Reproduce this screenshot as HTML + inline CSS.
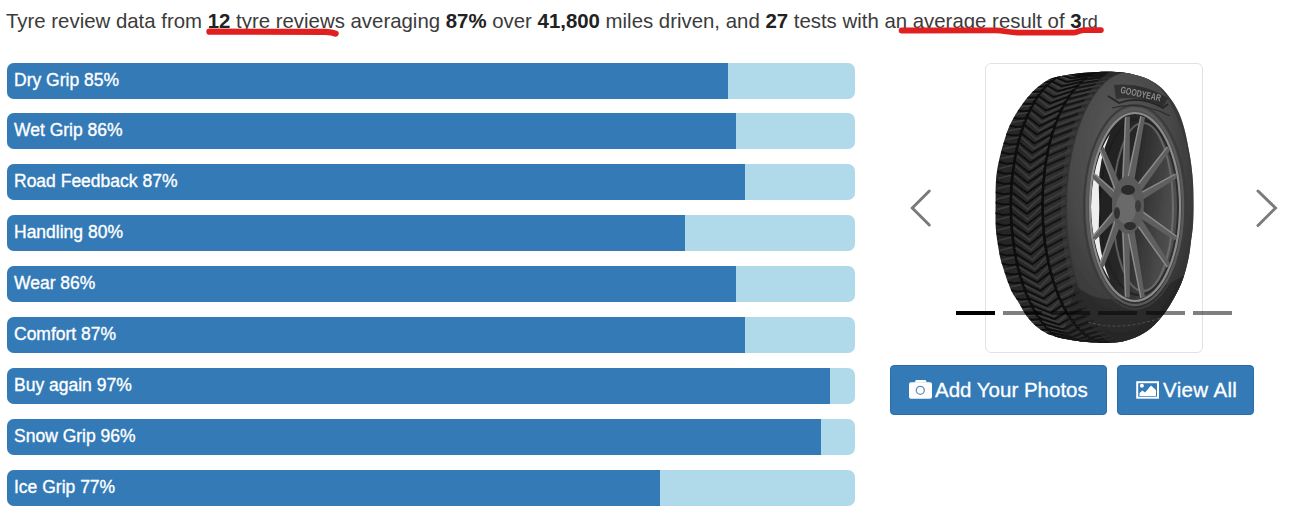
<!DOCTYPE html>
<html><head><meta charset="utf-8">
<style>
html,body{margin:0;padding:0;background:#fff;width:1296px;height:512px;overflow:hidden;}
body{font-family:"Liberation Sans",sans-serif;position:relative;}
.top{position:absolute;left:6px;top:9.5px;font-size:20.4px;color:#3b3b3b;white-space:nowrap;letter-spacing:0;}
.top b{color:#222;}
.ul{position:absolute;}
.bar{position:absolute;left:7px;width:848px;height:36px;background:#b0daea;border-radius:7px;overflow:hidden;}
.fill{position:absolute;left:0;top:0;bottom:0;background:#337ab7;}
.lbl{position:absolute;left:7px;top:7px;font-size:17.5px;color:#fff;white-space:nowrap;line-height:20px;-webkit-text-stroke:0.35px #fff;}
.card{position:absolute;left:985px;top:63px;width:216px;height:288px;border:1px solid #e2e2e2;border-radius:6px;background:#fff;}
.btn{position:absolute;top:365px;height:50px;background:#337ab7;border:1px solid #2e6da4;box-sizing:border-box;border-radius:4px;color:#fff;font-size:20px;white-space:nowrap;-webkit-text-stroke:0.3px #fff;}
.dash{position:absolute;top:311px;height:4px;width:39px;background:rgba(0,0,0,0.5);}
</style></head><body>
<div class="top">Tyre review data from <b>12</b> tyre reviews averaging <b>87%</b> over <b>41,800</b> miles driven, and <b>27</b> tests with an average result of <b>3</b><span style="font-size:18px">rd</span></div>

<svg style="position:absolute;left:0;top:0" width="1296" height="60">
<path d="M209.4,31.7 L326,31.8 Q332,32 335.6,33.6" fill="none" stroke="#e01f1f" stroke-width="6.2" stroke-linecap="round" stroke-linejoin="round"/>
<path d="M901.6,30.5 L995,30.4 C1005,30.5 1008,32.6 1018,32.6 L1074,32.6 C1078,32.5 1079,30.2 1084,30.1 L1100.9,30.1" fill="none" stroke="#e01f1f" stroke-width="5.8" stroke-linecap="round" stroke-linejoin="round"/>
</svg>
<div class="bar" style="top:63px"><div class="fill" style="width:85%"></div><div class="lbl">Dry Grip 85%</div></div>
<div class="bar" style="top:113px"><div class="fill" style="width:86%"></div><div class="lbl">Wet Grip 86%</div></div>
<div class="bar" style="top:164px"><div class="fill" style="width:87%"></div><div class="lbl">Road Feedback 87%</div></div>
<div class="bar" style="top:215px"><div class="fill" style="width:80%"></div><div class="lbl">Handling 80%</div></div>
<div class="bar" style="top:266px"><div class="fill" style="width:86%"></div><div class="lbl">Wear 86%</div></div>
<div class="bar" style="top:317px"><div class="fill" style="width:87%"></div><div class="lbl">Comfort 87%</div></div>
<div class="bar" style="top:368px"><div class="fill" style="width:97%"></div><div class="lbl">Buy again 97%</div></div>
<div class="bar" style="top:419px"><div class="fill" style="width:96%"></div><div class="lbl">Snow Grip 96%</div></div>
<div class="bar" style="top:470px"><div class="fill" style="width:77%"></div><div class="lbl">Ice Grip 77%</div></div>

<div class="card"></div>
<svg style="position:absolute;left:0;top:0" width="1296" height="512" viewBox="0 0 1296 512">
<defs>
<filter id="soft" x="-5%" y="-5%" width="110%" height="110%"><feGaussianBlur stdDeviation="0.6"/></filter>
<clipPath id="sil"><path d="M1105,71.7 C1112.6,71.6 1118,71.8 1124.5,72.8 C1131,73.8 1138.1,75.3 1144,77.6 C1149.9,79.9 1155.1,82.7 1159.7,86.4 C1164.3,90.1 1168.2,95.4 1171.4,100 C1174.7,104.6 1176.9,108.6 1179.2,113.8 C1181.5,119 1183.4,125.2 1185,131.4 C1186.6,137.6 1188,145.7 1189,151 C1190,156.3 1190.3,157.8 1191,163 C1191.7,168.2 1192.6,175.5 1193,182.5 C1193.4,189.5 1193.5,197.9 1193.5,205 C1193.5,212.1 1193.4,219 1193,225 C1192.6,231 1191.7,235.8 1191,241 C1190.3,246.2 1190,250.8 1189,256 C1188,261.2 1186.6,267.2 1185,272.5 C1183.4,277.8 1181.8,282.5 1179.2,288 C1176.6,293.5 1173.1,300.1 1169.5,305.7 C1165.9,311.3 1162,316.8 1157.7,321.4 C1153.5,325.9 1149.5,329.7 1144,333 C1138.5,336.3 1131,339.4 1124.5,341 C1118,342.6 1110,342.6 1105,342.8 C1100,343.1 1099.8,342.9 1094.4,342.5 C1089,342.1 1079.6,341.4 1072.5,340.2 C1065.4,339 1057.8,337.6 1052,335.5 C1046.2,333.4 1042.1,330.8 1038,327.7 C1033.9,324.6 1030.6,321.2 1027.2,316.8 C1023.8,312.3 1020.2,305 1017.8,301 C1015.3,297 1014.2,296.3 1012.5,293 C1010.8,289.7 1009.1,285.2 1007.6,281.2 C1006.1,277.3 1004.9,273.1 1003.7,269.5 C1002.6,265.9 1001.5,263.1 1000.7,259.8 C999.9,256.6 999.6,255.3 998.8,250 C998,244.7 996.3,236.6 995.8,228 C995.3,219.4 995.6,206.6 995.6,198.6 C995.6,190.6 995.7,184.9 996,180 C996.3,175.1 996.8,172.4 997.3,169 C997.8,165.6 998.6,162.6 999.3,159.3 C1000,156.1 1000.8,152.8 1001.7,149.5 C1002.6,146.2 1003.5,143.3 1004.6,139.8 C1005.7,136.3 1006.7,132.6 1008.4,128.6 C1010.1,124.6 1012.1,120.4 1014.7,116 C1017.3,111.6 1020.6,106.4 1024,102 C1027.4,97.6 1031.1,93.2 1035,89.6 C1038.9,86 1043.3,82.4 1047.5,80.2 C1051.7,78 1054.8,77.5 1060,76.3 C1065.2,75.1 1071.2,74 1078.8,73.2 C1086.2,72.4 1097.4,71.8 1105,71.7Z"/></clipPath>
<linearGradient id="tg" x1="0" y1="0" x2="1" y2="0"><stop offset="0" stop-color="#222"/><stop offset="0.3" stop-color="#2e2e2e"/><stop offset="1" stop-color="#363636"/></linearGradient>
<radialGradient id="sw" cx="0.42" cy="0.3" r="0.75"><stop offset="0" stop-color="#5a5a5a"/><stop offset="0.5" stop-color="#4a4a4a"/><stop offset="0.8" stop-color="#3a3a3a"/><stop offset="1" stop-color="#2c2c2c"/></radialGradient>
<linearGradient id="rg" x1="0" y1="0" x2="1" y2="0.3"><stop offset="0" stop-color="#1e1e1e"/><stop offset="0.5" stop-color="#262626"/><stop offset="1" stop-color="#505050"/></linearGradient>
<clipPath id="rimc"><ellipse cx="1135" cy="207" rx="44" ry="92"/></clipPath>
</defs>
<g filter="url(#soft)">
<g clip-path="url(#sil)">
<rect x="990" y="65" width="210" height="285" fill="url(#tg)"/>
<path d="M1080.8,72.2 L1077.4,71.7 L1074,71.7 L1070.6,72 L1067.2,72.7 L1063.8,73.7 L1060.5,75.1 L1057.2,76.9 L1053.9,79 L1050.7,81.5 L1047.6,84.3 L1044.6,87.5 L1041.6,91 L1038.8,94.8 L1036,98.9 L1033.4,103.4 L1030.8,108.1 L1028.4,113 L1026.2,118.3 L1024,123.8 L1022,129.5 L1020.2,135.4 L1018.5,141.5 L1017,147.8 L1015.6,154.2 L1014.4,160.9 L1013.4,167.6 L1012.5,174.4 L1011.8,181.4 L1011.3,188.4 L1011,195.4 L1010.8,202.5 L1010.9,209.6 L1011.1,216.7 L1011.5,223.7 L1012,230.8 L1012.8,237.7 L1013.7,244.6 L1014.8,251.4 L1016,258 L1017.4,264.5 L1019,270.9 L1020.7,277.1 L1022.6,283 L1024.6,288.8 L1026.8,294.4 L1029.1,299.7 L1031.6,304.7 L1034.1,309.5 L1036.8,314.1 L1039.6,318.3 L1042.5,322.2 L1045.4,325.8 L1048.5,329.1 L1051.6,332 L1054.8,334.6 L1058.1,336.9 L1061.4,338.8 L1064.7,340.3 L1068.1,341.5 L1071.5,342.3 L1074.9,342.7 L1078.4,342.8 L1081.8,342.5" stroke="#0a0a0a" stroke-width="2.6" fill="none"/>
<path d="M1111.1,72.2 L1107.7,71.8 L1104.4,71.7 L1101,72.1 L1097.7,72.7 L1094.4,73.8 L1091.1,75.2 L1087.9,77 L1084.7,79.1 L1081.6,81.6 L1078.5,84.4 L1075.6,87.6 L1072.7,91.1 L1069.9,94.9 L1067.2,99 L1064.6,103.4 L1062.1,108.1 L1059.7,113.1 L1057.5,118.3 L1055.4,123.8 L1053.5,129.5 L1051.7,135.4 L1050,141.6 L1048.5,147.9 L1047.2,154.3 L1046,160.9 L1045,167.6 L1044.2,174.5 L1043.5,181.4 L1043,188.4 L1042.7,195.5 L1042.5,202.5 L1042.5,209.6 L1042.8,216.7 L1043.1,223.8 L1043.7,230.8 L1044.4,237.8 L1045.3,244.6 L1046.4,251.4 L1047.6,258 L1049,264.5 L1050.5,270.9 L1052.2,277.1 L1054.1,283.1 L1056.1,288.8 L1058.2,294.4 L1060.4,299.7 L1062.8,304.8 L1065.3,309.6 L1068,314.1 L1070.7,318.3 L1073.5,322.2 L1076.4,325.8 L1079.4,329.1 L1082.5,332 L1085.6,334.6 L1088.8,336.9 L1092.1,338.8 L1095.3,340.3 L1098.7,341.5 L1102,342.3 L1105.3,342.7 L1108.7,342.8 L1112,342.5" stroke="#0a0a0a" stroke-width="2.6" fill="none"/>
<path d="M1064,71.6 L1078,71.8 M1108.1,71.7 L1133.6,72.4 M1058.9,71.8 L1073,71.7 M1103.2,72.1 L1128.8,71.8 M1053.9,72.7 L1068,72.4 M1098.4,73.3 L1124,72.1 M1048.9,74.5 L1063,73.9 M1093.5,75.2 L1119.1,73.1 M1044,77 L1058.1,76.1 M1088.8,77.9 L1114.4,75 M1039.2,80.3 L1053.3,79.2 M1084.2,81.4 L1109.7,77.6 M1034.5,84.3 L1048.6,83 M1079.7,85.7 L1105.1,81 M1030,89.1 L1044.1,87.5 M1075.4,90.6 L1100.7,85.1 M1025.7,94.5 L1039.8,92.7 M1071.2,96.2 L1096.4,89.9 M1021.6,100.6 L1035.6,98.7 M1067.3,102.5 L1092.3,95.5 M1017.7,107.4 L1031.7,105.2 M1063.7,109.4 L1088.4,101.7 M1014.2,114.7 L1028.1,112.4 M1060.2,116.9 L1084.7,108.5 M1010.8,122.6 L1024.7,120.1 M1057.1,124.9 L1081.3,115.9 M1007.8,131 L1021.6,128.3 M1054.3,133.5 L1078.2,123.9 M1005.2,139.8 L1018.9,137 M1051.8,142.4 L1075.4,132.3 M1002.8,149 L1016.4,146.1 M1049.6,151.7 L1072.9,141.2 M1000.8,158.6 L1014.3,155.6 M1047.7,161.4 L1070.7,150.5 M999.2,168.5 L1012.6,165.3 M1046.3,171.3 L1068.8,160.1 M997.9,178.5 L1011.2,175.3 M1045.1,181.4 L1067.3,169.9 M997.1,188.8 L1010.2,185.5 M1044.4,191.7 L1066.1,180.1 M996.6,199.2 L1009.6,195.9 M1044,202.1 L1065.3,190.3 M996.5,209.6 L1009.4,206.3 M1044,212.5 L1064.9,200.7 M996.7,220 L1009.6,216.7 M1044.4,222.8 L1064.9,211.1 M997.4,230.3 L1010.1,227 M1045.1,233.1 L1065.2,221.5 M998.5,240.5 L1011,237.3 M1046.3,243.3 L1065.9,231.8 M999.9,250.5 L1012.3,247.3 M1047.7,253.2 L1066.9,241.9 M1001.7,260.2 L1014,257.1 M1049.6,262.8 L1068.3,251.9 M1003.8,269.6 L1016,266.7 M1051.8,272.1 L1070.1,261.5 M1006.3,278.7 L1018.4,275.8 M1054.3,281.1 L1072.2,270.9 M1009.2,287.3 L1021.1,284.6 M1057.1,289.6 L1074.7,279.9 M1012.3,295.4 L1024.1,292.9 M1060.2,297.6 L1077.4,288.5 M1015.8,303.1 L1027.4,300.7 M1063.7,305.1 L1080.5,296.6 M1019.5,310.2 L1031,308 M1067.3,312 L1083.8,304.1 M1023.4,316.6 L1034.9,314.6 M1071.2,318.3 L1087.4,311.1 M1027.6,322.4 L1039,320.7 M1075.4,323.9 L1091.2,317.5 M1032,327.6 L1043.3,326 M1079.7,328.9 L1095.2,323.2 M1036.6,332 L1047.8,330.7 M1084.2,333.1 L1099.5,328.2 M1041.3,335.7 L1052.4,334.6 M1088.8,336.6 L1103.9,332.6 M1046.2,338.7 L1057.2,337.8 M1093.5,339.3 L1108.4,336.2 M1051.2,340.8 L1062.1,340.2 M1098.4,341.3 L1113.1,339 M1056.2,342.2 L1067.1,341.8 M1103.2,342.4 L1117.8,341.1 M1061.2,342.8 L1072.1,342.7 M1108.1,342.8 L1122.7,342.3 M1066.3,342.6 L1077.1,342.7 M1113,342.4 L1127.5,342.8 M1071.3,341.5 L1082.1,342 M1117.9,341.1 L1132.3,342.5 M1085.5,72.7 L1094.2,71.7 L1113,72.7 M1080.5,71.8 L1089.2,71.9 L1108.1,71.9 M1075.5,71.7 L1084.3,72.8 L1103.1,71.8 M1070.5,72.4 L1079.4,74.5 L1098.2,72.5 M1065.6,74 L1074.6,76.9 L1093.4,74 M1060.7,76.3 L1069.9,80.2 L1088.6,76.3 M1055.9,79.3 L1065.3,84.2 L1083.9,79.4 M1051.2,83.2 L1060.9,88.9 L1079.3,83.3 M1046.7,87.7 L1056.6,94.3 L1074.9,87.8 M1042.4,93 L1052.6,100.4 L1070.6,93.1 M1038.3,98.9 L1048.8,107.1 L1066.6,99 M1034.4,105.5 L1045.3,114.5 L1062.8,105.6 M1030.8,112.7 L1042,122.3 L1059.2,112.8 M1027.4,120.4 L1039.1,130.7 L1055.9,120.5 M1024.3,128.7 L1036.4,139.5 L1052.9,128.8 M1021.6,137.4 L1034.1,148.7 L1050.2,137.5 M1019.2,146.5 L1032.1,158.2 L1047.9,146.6 M1017.1,156 L1030.5,168.1 L1045.8,156.1 M1015.4,165.8 L1029.3,178.1 L1044.1,165.8 M1014.1,175.8 L1028.4,188.4 L1042.8,175.9 M1013.1,186 L1027.9,198.7 L1041.9,186.1 M1012.5,196.4 L1027.8,209.1 L1041.3,196.4 M1012.3,206.8 L1028,219.5 L1041.1,206.8 M1012.5,217.2 L1028.7,229.9 L1041.3,217.2 M1013,227.5 L1029.7,240 L1041.8,227.5 M1014,237.7 L1031.1,250 L1042.7,237.8 M1015.3,247.8 L1032.8,259.8 L1044,247.8 M1016.9,257.6 L1034.9,269.2 L1045.7,257.6 M1019,267.1 L1037.3,278.3 L1047.7,267.1 M1021.4,276.2 L1040.1,286.9 L1050,276.3 M1024.1,285 L1043.2,295.1 L1052.7,285 M1027.1,293.3 L1046.5,302.8 L1055.6,293.3 M1030.4,301.1 L1050.2,309.9 L1058.9,301.1 M1034,308.3 L1054,316.4 L1062.4,308.3 M1037.9,314.9 L1058.1,322.2 L1066.2,314.9 M1042,320.9 L1062.4,327.4 L1070.3,320.9 M1046.3,326.3 L1066.9,331.8 L1074.5,326.3 M1050.8,330.9 L1071.6,335.6 L1078.9,330.9 M1055.4,334.8 L1076.3,338.5 L1083.5,334.8 M1060.2,337.9 L1081.2,340.7 L1088.1,337.9 M1065.1,340.3 L1086.1,342.2 L1092.9,340.3 M1070.1,341.9 L1091,342.8 L1097.8,341.9 M1075.1,342.7 L1096,342.6 L1102.7,342.7 M1080.1,342.7 L1100.9,341.6 L1107.6,342.7" stroke="#444" stroke-width="1.6" fill="none" opacity="0.7"/>
<path d="M1066.1,72 L1072.6,71.9 L1080.5,71.9 M1061,71.6 L1067.6,71.6 L1075.5,71.7 M1055.9,72 L1062.5,72.2 L1070.5,72.2 M1050.9,73.2 L1057.5,73.6 L1065.5,73.5 M1045.9,75.2 L1052.6,75.7 L1060.6,75.6 M1041,77.9 L1047.8,78.6 L1055.8,78.4 M1036.3,81.5 L1043,82.3 L1051.1,82.1 M1031.7,85.7 L1038.5,86.7 L1046.5,86.4 M1027.2,90.7 L1034.1,91.9 L1042.1,91.5 M1023,96.4 L1029.9,97.7 L1038,97.3 M1018.9,102.7 L1025.9,104.1 L1034,103.7 M1015.2,109.7 L1022.2,111.2 L1030.3,110.7 M1011.6,117.2 L1018.8,118.8 L1026.9,118.3 M1008.4,125.2 L1015.7,126.9 L1023.7,126.4 M1005.5,133.7 L1012.8,135.6 L1020.9,135 M1002.9,142.7 L1010.3,144.6 L1018.4,144 M1000.7,152 L1008.2,154 L1016.2,153.4 M998.8,161.7 L1006.4,163.7 L1014.4,163.1 M997.3,171.6 L1005,173.7 L1012.9,173 M996.2,181.8 L1003.9,183.9 L1011.9,183.2 M995.4,192.1 L1003.2,194.2 L1011.2,193.5 M995,202.5 L1002.9,204.6 L1010.9,203.9 M995.1,212.9 L1003,215 L1010.9,214.3 M995.5,223.3 L1003.5,225.4 L1011.4,224.7 M996.3,233.5 L1004.4,235.6 L1012.2,234.9 M997.4,243.7 L1005.6,245.7 L1013.4,245 M999,253.6 L1007.2,255.6 L1015,254.9 M1000.9,263.2 L1009.2,265.2 L1017,264.5 M1003.2,272.5 L1011.5,274.4 L1019.3,273.8 M1005.8,281.4 L1014.2,283.2 L1021.9,282.6 M1008.7,289.9 L1017.2,291.6 L1024.8,291.1 M1012,297.9 L1020.5,299.5 L1028.1,299 M1015.5,305.4 L1024.1,306.9 L1031.6,306.4 M1019.3,312.3 L1027.9,313.6 L1035.4,313.2 M1023.3,318.5 L1032,319.8 L1039.5,319.4 M1027.6,324.2 L1036.3,325.2 L1043.7,324.9 M1032.1,329.1 L1040.7,330 L1048.2,329.7 M1036.7,333.3 L1045.4,334 L1052.8,333.8 M1041.5,336.7 L1050.2,337.4 L1057.5,337.1 M1046.4,339.4 L1055,339.9 L1062.4,339.7 M1051.4,341.3 L1060,341.6 L1067.3,341.5 M1056.4,342.5 L1065,342.6 L1072.3,342.6 M1061.5,342.8 L1070.1,342.8 L1077.3,342.8 M1066.5,342.3 L1075.1,342.1 L1082.3,342.2" stroke="#101010" stroke-width="2" fill="none"/>
<path d="M1086.4,73.3 L1095.9,72 L1116.6,73.4 M1081.4,72.1 L1090.9,71.7 L1111.7,72.2 M1076.4,71.6 L1085.9,72.2 L1106.8,71.7 M1071.4,72 L1081,73.4 L1101.9,72.1 M1066.4,73.2 L1076.2,75.5 L1097,73.3 M1061.5,75.1 L1071.4,78.3 L1092.1,75.2 M1056.6,77.8 L1066.7,81.9 L1087.4,77.9 M1051.9,81.3 L1062.2,86.2 L1082.8,81.4 M1047.3,85.6 L1057.9,91.3 L1078.3,85.7 M1042.9,90.5 L1053.7,97 L1074,90.6 M1038.7,96.2 L1049.8,103.4 L1069.8,96.2 M1034.7,102.5 L1046.1,110.4 L1065.9,102.5 M1031,109.4 L1042.7,118 L1062.2,109.4 M1027.5,116.9 L1039.6,126 L1058.8,116.9 M1024.3,124.9 L1036.7,134.6 L1055.7,124.9 M1021.4,133.4 L1034.3,143.6 L1052.8,133.4 M1018.8,142.3 L1032.1,153 L1050.3,142.4 M1016.6,151.6 L1030.3,162.7 L1048.1,151.7 M1014.7,161.3 L1028.8,172.6 L1046.3,161.4 M1013.2,171.2 L1027.7,182.8 L1044.8,171.3 M1012,181.4 L1027,193.1 L1043.7,181.4 M1011.3,191.6 L1026.7,203.5 L1042.9,191.7 M1010.9,202 L1026.8,213.9 L1042.6,202.1 M1010.9,212.4 L1027.2,224.2 L1042.6,212.5 M1011.3,222.8 L1028,234.5 L1042.9,222.8 M1012,233.1 L1029.2,244.6 L1043.7,233.1 M1013.2,243.2 L1030.7,254.5 L1044.8,243.3 M1014.7,253.1 L1032.6,264.1 L1046.3,253.2 M1016.6,262.8 L1034.9,273.4 L1048.1,262.8 M1018.8,272.1 L1037.5,282.3 L1050.3,272.1 M1021.4,281.1 L1040.4,290.7 L1052.8,281.1 M1024.3,289.6 L1043.6,298.6 L1055.7,289.6 M1027.5,297.6 L1047.1,306.1 L1058.8,297.6 M1031,305.1 L1050.8,312.9 L1062.2,305.1 M1034.7,312 L1054.8,319.1 L1065.9,312 M1038.7,318.3 L1059,324.6 L1069.8,318.3 M1042.9,323.9 L1063.4,329.5 L1074,323.9 M1047.3,328.9 L1068,333.6 L1078.3,328.9 M1051.9,333.1 L1072.7,337 L1082.8,333.1 M1056.6,336.6 L1077.5,339.6 L1087.4,336.6 M1061.5,339.3 L1082.4,341.5 L1092.1,339.3 M1066.4,341.3 L1087.3,342.5 L1097,341.3 M1071.4,342.4 L1092.3,342.8 L1101.9,342.4 M1076.4,342.8 L1097.2,342.2 L1106.8,342.8" stroke="#111" stroke-width="2" fill="none"/>
<path d="M1109.3,71.9 L1136.9,73 M1104.4,71.8 L1132,72 M1099.5,72.6 L1127.2,71.8 M1094.7,74.1 L1122.4,72.5 M1089.9,76.4 L1117.6,73.9 M1085.2,79.5 L1112.8,76.1 M1080.6,83.4 L1108.2,79.1 M1076.2,87.9 L1103.7,82.8 M1072,93.2 L1099.3,87.3 M1067.9,99.2 L1095.1,92.5 M1064.1,105.8 L1091.1,98.4 M1060.6,112.9 L1087.3,104.9 M1057.3,120.7 L1083.8,112 M1054.3,128.9 L1080.5,119.7 M1051.6,137.7 L1077.5,127.8 M1049.2,146.8 L1074.9,136.5 M1047.2,156.3 L1072.5,145.6 M1045.6,166.1 L1070.4,155 M1044.2,176.1 L1068.7,164.8 M1043.3,186.3 L1067.4,174.7 M1042.7,196.6 L1066.4,184.9 M1042.5,207 L1065.8,195.3 M1042.7,217.4 L1065.6,205.6 M1043.3,227.8 L1065.7,216 M1044.2,238 L1066.2,226.4 M1045.5,248 L1067.1,236.6 M1047.1,257.8 L1068.3,246.7 M1049.1,267.3 L1069.9,256.5 M1051.5,276.5 L1071.8,266.1 M1054.2,285.2 L1074.1,275.3 M1057.1,293.5 L1076.7,284 M1060.4,301.2 L1079.5,292.4 M1064,308.5 L1082.7,300.2 M1067.7,315.1 L1086.2,307.5 M1071.8,321.1 L1089.9,314.2 M1076,326.4 L1093.8,320.3 M1080.4,331 L1098,325.7 M1085,334.9 L1102.3,330.4 M1089.6,338 L1106.7,334.4 M1094.4,340.4 L1111.3,337.6 M1099.3,341.9 L1116,340.1 M1104.2,342.7 L1120.8,341.8 M1109.1,342.7 L1125.6,342.6 M1114,341.9 L1130.5,342.7" stroke="#121212" stroke-width="2" fill="none"/>
<ellipse cx="1130" cy="207.3" rx="63" ry="135.5" fill="none" stroke="#3a3a3a" stroke-width="12" opacity="0.6"/>
<ellipse cx="1130" cy="207.3" rx="63" ry="135.5" fill="url(#sw)"/>
<path d="M1075,285 Q1110,318 1185,275 L1200,350 L1060,350Z" fill="#1a1a1a" opacity="0.45"/>
<path d="M1088,322 Q1120,332 1160,318" stroke="#555" stroke-width="1.2" fill="none" stroke-dasharray="3 2" opacity="0.7"/>
</g>
<ellipse cx="1135" cy="207" rx="51" ry="102" fill="none" stroke="#3a3a3a" stroke-width="2"/>
<ellipse cx="1135" cy="207" rx="48" ry="98" fill="none" stroke="#5a5a5a" stroke-width="2.5"/>
<ellipse cx="1135" cy="207" rx="45" ry="94" fill="url(#rg)" stroke="#8c8c8c" stroke-width="2.2"/>
<g clip-path="url(#rimc)">
<path d="M1091,207 A44,92 0 0 1 1110,134 A62,96 0 0 0 1100,207 A62,96 0 0 0 1110,280 A44,92 0 0 1 1091,207Z" fill="#eeeeee"/>
<ellipse cx="1143" cy="207" rx="30" ry="84" fill="none" stroke="#808080" stroke-width="2" opacity="0.6"/>
<ellipse cx="1139" cy="207" rx="39" ry="88" fill="none" stroke="#1e1e1e" stroke-width="2" opacity="0.7"/>
<path d="M1129.7,180.5 L1129.9,116.5 L1124.9,116.3 L1121.7,180.3Z M1134.2,181.1 L1145.1,116.9 L1140.2,115.9 L1126.3,179.6Z M1141.2,191.3 L1170.7,149.4 L1166.7,146.4 L1134.8,186.5Z M1142.2,199.9 L1177.6,177.7 L1175.1,173.4 L1138.2,193Z M1137.9,216.8 L1174.9,240.5 L1177.8,236.4 L1142.5,210.3Z M1134.7,223.3 L1166.6,267.5 L1170.8,264.7 L1141.3,218.8Z M1126.3,230.3 L1140.2,298.1 L1145.1,297.2 L1134.2,228.9Z M1121.7,229.7 L1124.9,297.7 L1129.9,297.5 L1129.7,229.5Z M1114.3,219.7 L1099,265.3 L1103.6,267 L1121.8,222.5Z M1112.8,210.9 L1091.8,236.8 L1095.5,240.1 L1118.8,216.2Z M1118.5,193.5 L1095.4,173.7 L1091.9,177.4 L1113,199.4Z M1121.7,187.4 L1103.6,146.9 L1099,148.8 L1114.3,190.4Z" fill="#5e5e5e"/>
<path d="M1122.9,180.3 L1125.6,116.4 M1127.5,179.8 L1140.9,116.1 M1135.7,187.3 L1167.3,146.8 M1138.8,194 L1175.5,174 M1141.8,211.2 L1177.3,237 M1135.6,222.6 L1167.3,267.1 M1127.5,230.1 L1140.9,297.9 M1122.9,229.7 L1125.6,297.6 M1115.4,220.1 L1099.7,265.5 M1113.7,211.7 L1092.3,237.3 M1117.7,194.4 L1094.9,174.3 M1115.4,190 L1099.7,148.5" stroke="#8e8e8e" stroke-width="1.3" fill="none"/>
</g>
<ellipse cx="1128" cy="205" rx="16" ry="29" fill="#5a5a5a"/>
<ellipse cx="1126" cy="208" rx="10" ry="16" fill="#6a6a6a"/>
<ellipse cx="1128" cy="190" rx="7" ry="5" fill="#2c2c2c"/>
<ellipse cx="1117" cy="213" rx="3" ry="6" fill="#333"/>
<ellipse cx="1130" cy="226" rx="6" ry="4" fill="#2e2e2e"/>
<ellipse cx="1138" cy="206" rx="3" ry="6" fill="#3a3a3a"/>
<path d="M1114,85 Q1142,82 1168,98 L1163,107 Q1140,95 1116,99Z" fill="#2a2a2a" opacity="0.85"/>
<path d="M1108,96 L1119,103 Q1140,95 1163,108 L1168,104" stroke="#262626" stroke-width="1.8" fill="none"/>
<path d="M1112,108 Q1140,100 1170,116" stroke="#2e2e2e" stroke-width="1.2" fill="none"/>
<text x="1120" y="97" font-family="Liberation Sans" font-weight="bold" font-size="9.5" fill="#8c8c8c" transform="rotate(12 1140 95)" textLength="41" lengthAdjust="spacingAndGlyphs">GOODYEAR</text>
</g>
</svg>

<svg style="position:absolute;left:0;top:0" width="1296" height="512">
<polyline points="929.3,191 912.3,208 929.3,225" fill="none" stroke="#7b7b7b" stroke-width="3" stroke-linecap="round"/>
<polyline points="1258,191 1275.5,208 1258,225.5" fill="none" stroke="#7b7b7b" stroke-width="3" stroke-linecap="round"/>
</svg>

<div class="dash" style="left:956px;background:#000"></div>
<div class="dash" style="left:1003px"></div>
<div class="dash" style="left:1051px"></div>
<div class="dash" style="left:1098px"></div>
<div class="dash" style="left:1146px"></div>
<div class="dash" style="left:1193px"></div>

<div class="btn" style="left:890px;width:217px;"><span style="position:absolute;left:44px;top:12px;font-size:20.5px;">Add Your Photos</span></div>
<div class="btn" style="left:1117px;width:137px;"><span style="position:absolute;left:45px;top:12px;font-size:20.5px;letter-spacing:0.35px;">View All</span></div>
<svg style="position:absolute;left:0;top:0" width="1296" height="512">
<path d="M914.5,382.5 L916,380 L925.5,380 L927,382.5 Z" fill="#fff"/>
<rect x="909" y="382.3" width="23" height="16.4" rx="2" fill="#fff"/>
<circle cx="920.3" cy="390.3" r="4" fill="none" stroke="#5e8fbd" stroke-width="1.3"/>
<rect x="1137.2" y="382.2" width="20.8" height="15.5" fill="none" stroke="#fff" stroke-width="2"/>
<circle cx="1141.9" cy="385.8" r="2" fill="#fff"/>
<path d="M1139.5,396 L1139.5,393 L1142.5,390.5 L1145,392.5 L1151,385.5 L1156,390 L1156,396 Z" fill="#fff"/>
</svg>
</body></html>
